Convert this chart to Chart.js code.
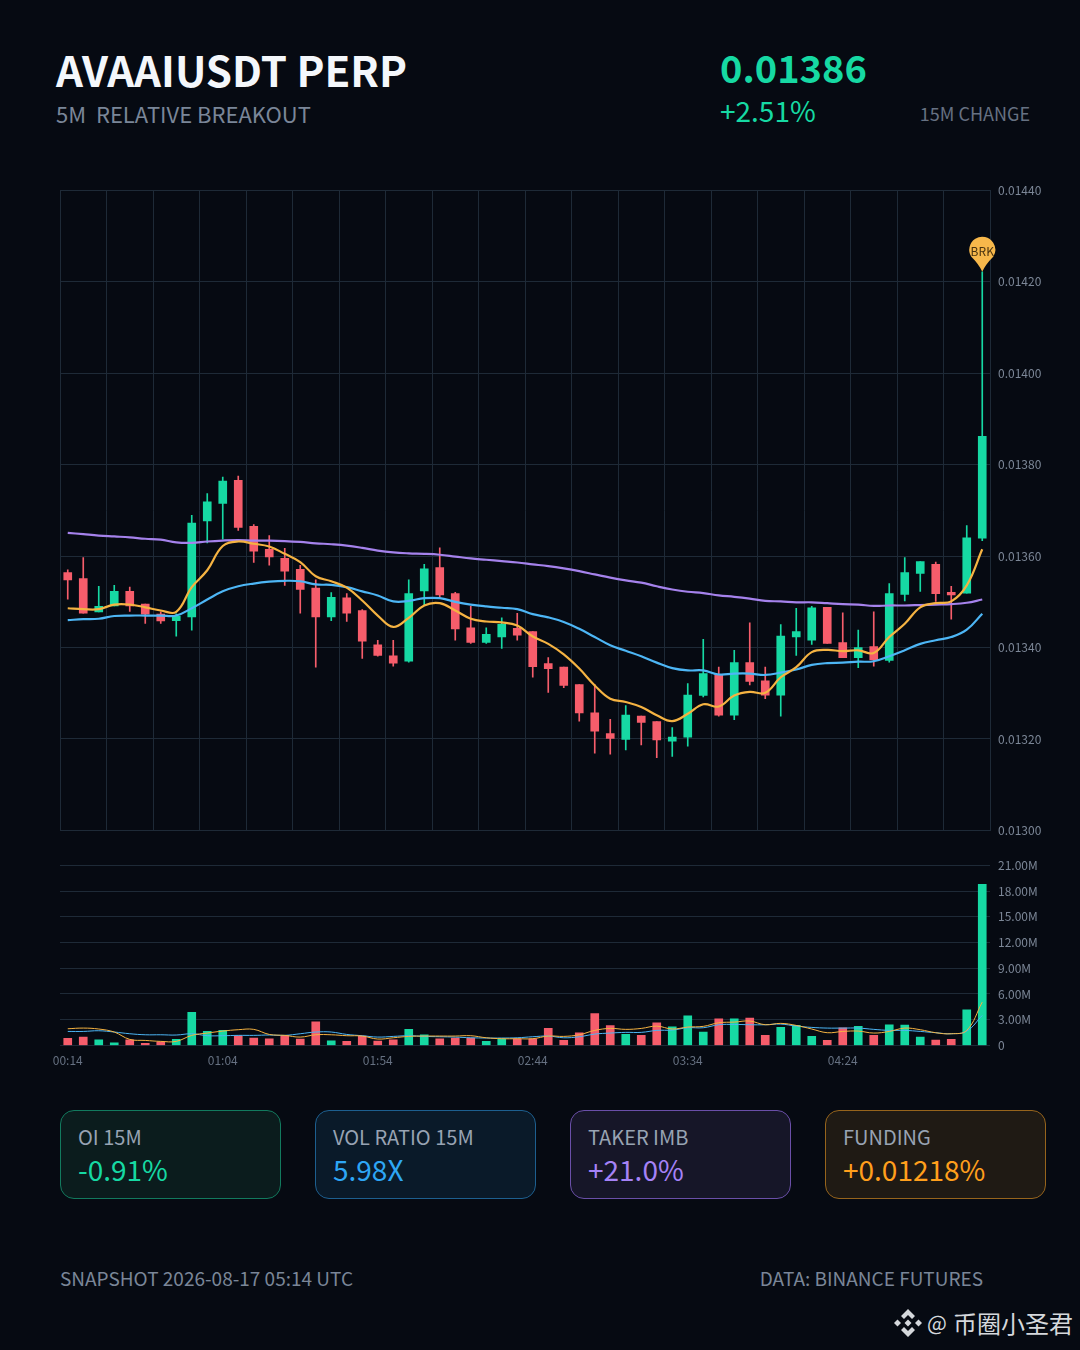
<!DOCTYPE html>
<html>
<head>
<meta charset="utf-8">
<title>AVAAIUSDT PERP</title>
<script src="https://cdn.jsdelivr.net/npm/chart.js@4/dist/chart.umd.min.js"></script>
<style>
  * { margin: 0; padding: 0; box-sizing: border-box; }
  html, body { width: 1080px; height: 1350px; background: #060a12; overflow: hidden; }
  body { position: relative; font-family: "Noto Sans CJK SC", "Noto Sans", sans-serif; }
  canvas { position: absolute; left: 0; }
  #priceChart { top: 170px; }
  #volumeChart { top: 850px; }
  .txt { position: absolute; white-space: pre; line-height: 1; }
  .card { position: absolute; top: 1110px; width: 221px; height: 89px; border-radius: 14px; border: 1px solid; }
  .card .lab { position: absolute; left: 17px; top: 14px; font-size: 20px; line-height: 1.2; color: #98a3b3; white-space: pre; }
  .card .val { position: absolute; left: 17px; top: 42px; font-size: 28px; line-height: 1.2; white-space: pre; }
  #marca { position: absolute; left: 894px; top: 1309px; width: 28px; height: 28px; }
</style>
</head>
<body>
  <div class="txt" style="left:56px;top:48px;font-size:42px;font-weight:700;color:#f4f7fb">AVAAIUSDT PERP</div>
  <div class="txt" style="left:56px;top:102px;font-size:22px;color:#7a8698">5M  RELATIVE BREAKOUT</div>
  <div class="txt" style="left:720px;top:48px;font-size:38px;font-weight:700;color:#16d9a3">0.01386</div>
  <div class="txt" style="left:720px;top:96px;font-size:28px;color:#16d9a3">+2.51%</div>
  <div class="txt" style="right:50px;top:104px;font-size:18px;color:#667182">15M CHANGE</div>

  <canvas id="priceChart" width="1080" height="680"></canvas>
  <canvas id="volumeChart" width="1080" height="230"></canvas>

  <div class="card" style="left:60px;background:#0b1c1d;border-color:#127a5e">
    <div class="lab">OI 15M</div><div class="val" style="color:#16d9a3">-0.91%</div>
  </div>
  <div class="card" style="left:315px;background:#0a1a29;border-color:#1d5f8f">
    <div class="lab">VOL RATIO 15M</div><div class="val" style="color:#2ea6f5">5.98X</div>
  </div>
  <div class="card" style="left:570px;background:#161628;border-color:#6a4fa8">
    <div class="lab">TAKER IMB</div><div class="val" style="color:#a582f7">+21.0%</div>
  </div>
  <div class="card" style="left:825px;background:#1f1a14;border-color:#96641c">
    <div class="lab">FUNDING</div><div class="val" style="color:#ff9f1c">+0.01218%</div>
  </div>

  <div class="txt" style="left:60px;top:1268px;font-size:19px;color:#7a8698">SNAPSHOT 2026-08-17 05:14 UTC</div>
  <div class="txt" style="right:97px;top:1268px;font-size:19px;color:#7a8698">DATA: BINANCE FUTURES</div>

  <svg id="marca" viewBox="0 0 28 28" fill="#d5d8dc">
    <path d="M14 0 L21 7 L18 10 L14 6 L10 10 L7 7 Z"/>
    <path d="M3.5 10.5 L7 14 L3.5 17.5 L0 14 Z"/>
    <path d="M24.5 10.5 L28 14 L24.5 17.5 L21 14 Z"/>
    <path d="M14 10.5 L17.5 14 L14 17.5 L10.5 14 Z"/>
    <path d="M14 28 L7 21 L10 18 L14 22 L18 18 L21 21 Z"/>
  </svg>
  <div class="txt" style="left:927px;top:1312px;font-size:21px;color:#d5d8dc">@</div>
  <div class="txt" style="left:953px;top:1311px;font-size:24px;color:#d5d8dc">币圈小圣君</div>

<script>
const times = [
  "00:14","00:19","00:24","00:29","00:34","00:39","00:44","00:49","00:54","00:59",
  "01:04","01:09","01:14","01:19","01:24","01:29","01:34","01:39","01:44","01:49",
  "01:54","01:59","02:04","02:09","02:14","02:19","02:24","02:29","02:34","02:39",
  "02:44","02:49","02:54","02:59","03:04","03:09","03:14","03:19","03:24","03:29",
  "03:34","03:39","03:44","03:49","03:54","03:59","04:04","04:09","04:14","04:19",
  "04:24","04:29","04:34","04:39","04:44","04:49","04:54","04:59","05:04","05:09"
];

const opens = [
  0.013564,0.013551,0.013478,0.013491,0.013523,0.013495,0.013473,0.013459,0.013467,0.013677,
  0.013715,0.013766,0.013665,0.013615,0.013595,0.013571,0.013530,0.013467,0.013509,0.013481,
  0.013406,0.013382,0.013370,0.013524,0.013575,0.013518,0.013443,0.013411,0.013423,0.013442,
  0.013435,0.013365,0.013357,0.013319,0.013257,0.013212,0.013199,0.013250,0.013238,0.013195,
  0.013204,0.013295,0.013341,0.013252,0.013367,0.013327,0.013296,0.013423,0.013416,0.013488,
  0.013411,0.013378,0.013402,0.013372,0.013516,0.013562,0.013582,0.013521,0.013519,0.013639
];
const closes = [
  0.013548,0.013475,0.013490,0.013523,0.013491,0.013473,0.013458,0.013469,0.013672,0.013719,
  0.013764,0.013663,0.013611,0.013598,0.013567,0.013527,0.013467,0.013510,0.013475,0.013414,
  0.013383,0.013366,0.013518,0.013572,0.013515,0.013441,0.013411,0.013429,0.013451,0.013427,
  0.013358,0.013354,0.013317,0.013257,0.013217,0.013201,0.013252,0.013236,0.013198,0.013204,
  0.013296,0.013343,0.013252,0.013367,0.013326,0.013296,0.013425,0.013435,0.013487,0.013409,
  0.013378,0.013400,0.013373,0.013518,0.013564,0.013588,0.013518,0.013515,0.013640,0.013862
];
const highs = [
  0.013570,0.013597,0.013534,0.013536,0.013532,0.013495,0.013478,0.013474,0.013689,0.013737,
  0.013773,0.013775,0.013669,0.013645,0.013617,0.013580,0.013548,0.013520,0.013518,0.013483,
  0.013416,0.013416,0.013548,0.013582,0.013618,0.013521,0.013490,0.013443,0.013465,0.013475,
  0.013435,0.013378,0.013357,0.013319,0.013319,0.013243,0.013273,0.013250,0.013238,0.013225,
  0.013321,0.013418,0.013357,0.013394,0.013454,0.013357,0.013450,0.013486,0.013490,0.013488,
  0.013476,0.013438,0.013478,0.013540,0.013597,0.013588,0.013587,0.013534,0.013667,0.014222
];
const lows = [
  0.013506,0.013475,0.013478,0.013491,0.013479,0.013453,0.013453,0.013425,0.013438,0.013629,
  0.013637,0.013656,0.013586,0.013580,0.013536,0.013475,0.013357,0.013459,0.013457,0.013376,
  0.013381,0.013359,0.013368,0.013492,0.013510,0.013416,0.013409,0.013409,0.013398,0.013416,
  0.013335,0.013302,0.013312,0.013239,0.013169,0.013167,0.013176,0.013187,0.013159,0.013162,
  0.013184,0.013292,0.013250,0.013242,0.013318,0.013288,0.013250,0.013383,0.013407,0.013409,
  0.013378,0.013356,0.013359,0.013368,0.013502,0.013523,0.013501,0.013462,0.013519,0.013634
];

const maFast = [
  0.013486,0.013484,0.013484,0.013494,0.013494,0.013488,0.013481,0.013478,0.013532,0.013569,
  0.013622,0.013632,0.013627,0.013621,0.013605,0.013587,0.013556,0.013545,0.013531,0.013503,
  0.013470,0.013445,0.013465,0.013492,0.013497,0.013481,0.013463,0.013457,0.013455,0.013448,
  0.013424,0.013408,0.013385,0.013354,0.013317,0.013288,0.013281,0.013270,0.013252,0.013239,
  0.013255,0.013276,0.013271,0.013295,0.013303,0.013301,0.013335,0.013357,0.013390,0.013395,
  0.013392,0.013394,0.013388,0.013423,0.013452,0.013488,0.013497,0.013501,0.013536,0.013615
];
const maMid = [
  0.013460,0.013462,0.013463,0.013469,0.013470,0.013470,0.013470,0.013470,0.013486,0.013505,
  0.013523,0.013534,0.013540,0.013544,0.013546,0.013545,0.013538,0.013537,0.013532,0.013523,
  0.013514,0.013501,0.013502,0.013508,0.013508,0.013500,0.013494,0.013490,0.013487,0.013484,
  0.013473,0.013466,0.013456,0.013441,0.013423,0.013405,0.013393,0.013381,0.013367,0.013355,
  0.013350,0.013350,0.013341,0.013343,0.013343,0.013340,0.013345,0.013352,0.013362,0.013366,
  0.013367,0.013369,0.013370,0.013381,0.013394,0.013408,0.013416,0.013423,0.013439,0.013474
];
const maSlow = [
  0.013651,0.013648,0.013645,0.013643,0.013641,0.013638,0.013636,0.013630,0.013629,0.013632,
  0.013634,0.013635,0.013634,0.013634,0.013633,0.013631,0.013628,0.013626,0.013623,0.013618,
  0.013612,0.013608,0.013606,0.013605,0.013603,0.013599,0.013595,0.013592,0.013589,0.013586,
  0.013582,0.013578,0.013573,0.013567,0.013560,0.013553,0.013547,0.013542,0.013534,0.013527,
  0.013522,0.013519,0.013514,0.013511,0.013507,0.013502,0.013501,0.013499,0.013499,0.013497,
  0.013495,0.013494,0.013491,0.013492,0.013492,0.013493,0.013494,0.013495,0.013498,0.013505
];

const volumes = [
  0.82,0.97,0.66,0.31,0.66,0.23,0.43,0.70,3.85,1.63,
  1.75,1.13,0.86,0.78,1.17,0.74,2.76,0.54,0.47,1.09,
  0.51,0.66,1.87,1.24,0.78,0.86,0.86,0.47,0.78,0.78,
  0.78,1.98,0.58,1.48,3.70,2.30,1.28,1.17,2.64,2.18,
  3.46,1.56,3.11,3.11,3.19,1.17,2.10,2.33,1.05,0.58,
  2.06,2.22,1.17,2.41,2.37,0.97,0.62,0.70,4.16,18.78
];
const volFast = [
  1.94,2.02,1.91,1.56,0.70,0.58,0.47,0.47,1.17,1.44,
  1.67,1.83,1.87,1.28,1.17,0.97,1.24,1.24,1.13,1.09,
  0.74,0.89,1.05,1.09,1.09,1.09,1.13,0.89,0.78,0.78,
  0.78,1.09,1.05,1.24,1.75,1.98,1.87,1.98,2.25,1.91,
  2.14,2.22,2.64,2.72,2.84,2.41,2.57,2.33,1.91,1.48,
  1.63,1.67,1.44,1.63,2.02,1.83,1.48,1.36,1.75,5.05
];
const volSlow = [
  1.63,1.63,1.71,1.56,1.36,1.24,1.24,1.21,1.36,1.13,
  1.13,1.17,1.17,1.21,1.17,1.36,1.56,1.56,1.28,1.13,
  0.97,1.05,1.13,1.05,1.01,0.97,0.89,0.86,0.86,0.89,
  1.01,1.09,0.89,1.01,1.32,1.44,1.52,1.52,1.75,1.79,
  2.06,2.06,2.41,2.45,2.41,2.41,2.49,2.25,2.10,2.02,
  2.02,2.02,1.87,1.75,1.75,1.63,1.48,1.36,1.67,3.50
];

const GREEN = "#16d9a3";
const RED = "#f65d6b";
const GRID = "#1e2a37";
const TICK = "#7c8797";
const FONT = "'Noto Sans CJK SC', 'Noto Sans', sans-serif";

const candleColors = closes.map((c, i) => (c >= opens[i] ? GREEN : RED));

function line(data, color, width) {
  return {
    type: "line",
    data: data,
    borderColor: color,
    borderWidth: width,
    pointRadius: 0,
    tension: 0.4,
    order: 1
  };
}

// pin do BRK em cima da maxima do ultimo candle
const pinBreakout = {
  id: "pinBreakout",
  afterDatasetsDraw(chart) {
    const last = times.length - 1;
    const x = chart.scales.x.getPixelForValue(last);
    const tip = chart.scales.y.getPixelForValue(highs[last]);
    const r = 13;
    const cy = tip - 22;
    const c = chart.ctx;
    c.save();
    c.fillStyle = "#f7b84b";
    c.beginPath();
    c.arc(x, cy, r, Math.PI * 0.82, Math.PI * 0.18);
    c.quadraticCurveTo(x + 3, tip - 7, x, tip);
    c.quadraticCurveTo(x - 3, tip - 7, x - r * 0.84, cy + r * 0.54);
    c.closePath();
    c.fill();
    c.fillStyle = "#4a3410";
    c.font = "12px " + FONT;
    c.textAlign = "center";
    c.textBaseline = "middle";
    c.fillText("BRK", x, cy + 2);
    c.restore();
  }
};

new Chart(document.getElementById("priceChart"), {
  type: "bar",
  data: {
    labels: times,
    datasets: [
      line(maFast, "#f5b342", 2.2),
      line(maMid, "#4db6f5", 2.2),
      line(maSlow, "#a582ec", 2.2),
      {
        data: opens.map((o, i) => [o, closes[i]]),
        backgroundColor: candleColors,
        barThickness: 8,
        grouped: false,
        order: 2
      },
      {
        data: lows.map((l, i) => [l, highs[i]]),
        backgroundColor: candleColors,
        barThickness: 1,
        grouped: false,
        order: 3
      }
    ]
  },
  options: {
    responsive: false,
    animation: false,
    devicePixelRatio: 1,
    layout: { padding: { left: 60, top: 20.4, bottom: 19.6, right: 0 } },
    plugins: { legend: { display: false }, tooltip: { enabled: false } },
    scales: {
      x: {
        offset: true,
        grid: {
          offset: true,
          drawTicks: false,
          color: (ctx) => (ctx.index === undefined || ctx.index % 3 === 0 ? GRID : "transparent")
        },
        border: { display: true, color: GRID },
        ticks: { display: false, autoSkip: false }
      },
      y: {
        position: "right",
        min: 0.013,
        max: 0.0144,
        afterFit: (s) => { s.width = 90; },
        grid: { color: GRID, drawTicks: false },
        border: { display: true, color: GRID },
        ticks: {
          stepSize: 0.0002,
          padding: 8,
          color: TICK,
          font: { family: FONT, size: 12 },
          callback: (v) => v.toFixed(5)
        }
      }
    }
  },
  plugins: [pinBreakout]
});

new Chart(document.getElementById("volumeChart"), {
  type: "bar",
  data: {
    labels: times,
    datasets: [
      line(volFast, "#f5b342", 1),
      line(volSlow, "#4db6f5", 1),
      {
        data: volumes,
        backgroundColor: candleColors,
        barThickness: 8,
        order: 2
      }
    ]
  },
  options: {
    responsive: false,
    animation: false,
    devicePixelRatio: 1,
    layout: { padding: { left: 60, top: 15.4, bottom: 0, right: 0 } },
    plugins: { legend: { display: false }, tooltip: { enabled: false } },
    scales: {
      x: {
        offset: true,
        afterFit: (s) => { s.height = 34.6; },
        grid: { display: false, drawTicks: false },
        border: { display: false },
        ticks: {
          autoSkip: false,
          maxRotation: 0,
          padding: 8,
          color: "#667182",
          font: { family: FONT, size: 12 },
          callback: (v, i) => (i % 10 === 0 ? times[i] : null)
        }
      },
      y: {
        position: "right",
        min: 0,
        max: 21,
        afterFit: (s) => { s.width = 90; },
        grid: { color: GRID, drawTicks: false },
        border: { display: false },
        ticks: {
          stepSize: 3,
          padding: 8,
          color: TICK,
          font: { family: FONT, size: 12 },
          callback: (v) => (v === 0 ? "0" : v.toFixed(2) + "M")
        }
      }
    }
  }
});
</script>
</body>
</html>
